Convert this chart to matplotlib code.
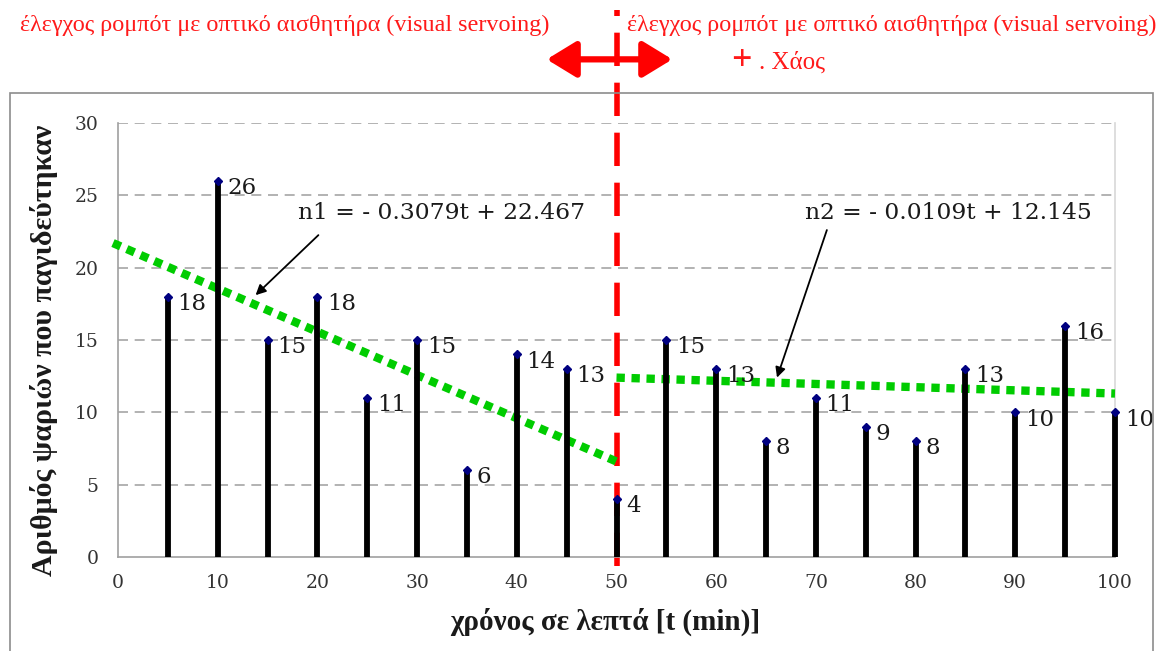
import matplotlib
matplotlib.use("Agg")
import matplotlib.pyplot as plt
from matplotlib.patches import Rectangle

#data
t_min = [5, 10, 15, 20, 25, 30, 35, 40, 45, 50, 55, 60, 65, 70, 75, 80, 85, 90, 95, 100]
n_fish = [18, 26, 15, 18, 11, 15, 6, 14, 13, 4, 15, 13, 8, 11, 9, 8, 13, 10, 16, 10]

#trend lines as drawn (end points)
trend1_t = [-0.5, 50]
trend1_n = [21.7, 6.6]
trend2_t = [50, 100]
trend2_n = [12.4, 11.3]

eq1 = "n1 = - 0.3079t + 22.467"
eq2 = "n2 = - 0.0109t + 12.145"

top_txt = "έλεγχος ρομπότ με οπτικό αισθητήρα (visual servoing)"
chaos_txt = ". Χάος"
xlab = "χρόνος σε λεπτά [t (min)]"
ylab = "Αριθμός ψαριών που παγιδεύτηκαν"

xticks = [0, 10, 20, 30, 40, 50, 60, 70, 80, 90, 100]
yticks = [0, 5, 10, 15, 20, 25, 30]

#_____________________________________________________________________________
def main():

    fig = plt.figure(figsize=(11.61, 6.51), dpi=100)
    fig.patch.set_facecolor("white")

    #chart area frame
    fig.patches.append(Rectangle((10/1161., -0.05), 1143/1161., 1.05 - 93/651.,
        transform=fig.transFigure, fill=False, edgecolor="#8c8c8c", lw=1.2))

    ax = fig.add_axes([118/1161., 1 - 557/651., 997/1161., 434/651.])
    ax.set_xlim(0, 100)
    ax.set_ylim(0, 30)

    for y in yticks[1:]:
        ax.axhline(y, color="#a6a6a6", lw=1.2, ls=(0, (6, 4)), zorder=1)

    for s in ["left", "bottom", "right"]:
        ax.spines[s].set_color("#a0a0a0")
        ax.spines[s].set_linewidth(1.2)
    ax.spines["right"].set_color("#d8d8d8")
    ax.spines["top"].set_visible(False)

    #trend lines
    ax.plot(trend1_t, trend1_n, color="#00cc00", lw=6, ls=(0, (1.0, 0.8)),
            solid_capstyle="butt", clip_on=False, zorder=3)
    ax.plot(trend2_t, trend2_n, color="#00cc00", lw=6, ls=(0, (1.0, 0.8)),
            solid_capstyle="butt", clip_on=False, zorder=3)

    #red separator
    ax.plot([50, 50], [-0.6, 37.8], color="red", lw=4, ls=(0, (6, 3)),
            clip_on=False, zorder=2)

    #stems
    ax.vlines(t_min, 0, n_fish, color="black", lw=4.2, zorder=4, clip_on=False)
    ax.plot(t_min, n_fish, "D", color="#000080", ms=4.5, zorder=5, clip_on=False)

    for t, n in zip(t_min, n_fish):
        ax.annotate(str(n), (t, n - 0.5), xytext=(7, 0), textcoords="offset points",
                    ha="left", va="center", fontsize=16.5, family="DejaVu Serif",
                    color="#1a1a1a", zorder=6, annotation_clip=False)

    #equations
    ax.text(32.5, 23.8, eq1, ha="center", va="center", fontsize=16.8,
            family="DejaVu Serif", color="#1a1a1a")
    ax.annotate("", xy=(13.8, 18.1), xytext=(20.1, 22.25),
                arrowprops=dict(arrowstyle="-|>", color="black", lw=1.3,
                                mutation_scale=15, shrinkA=0, shrinkB=0))
    ax.text(83.3, 23.8, eq2, ha="center", va="center", fontsize=16.8,
            family="DejaVu Serif", color="#1a1a1a")
    ax.annotate("", xy=(66.1, 12.4), xytext=(71.1, 22.6),
                arrowprops=dict(arrowstyle="-|>", color="black", lw=1.3,
                                mutation_scale=15, shrinkA=0, shrinkB=0))

    #top labels
    ax.annotate("", xy=(43.0, 34.4), xytext=(55.6, 34.4), annotation_clip=False,
                arrowprops=dict(arrowstyle="<|-|>,head_length=0.9,head_width=0.55",
                                color="red", lw=4.5, mutation_scale=20,
                                shrinkA=0, shrinkB=0))
    fig.text(20/1161., 1 - 25/651., top_txt, ha="left", va="center", fontsize=17.4,
             family="Liberation Serif", color="#ff1a1a")
    fig.text(1156/1161., 1 - 25/651., top_txt, ha="right", va="center", fontsize=17.4,
             family="Liberation Serif", color="#ff1a1a")
    fig.text(731/1161., 1 - 61/651., "+", ha="left", va="center", fontsize=26,
             family="Liberation Serif", color="#ff1a1a", weight="bold")
    fig.text(759/1161., 1 - 62/651., chaos_txt, ha="left", va="center", fontsize=18,
             family="Liberation Serif", color="#ff1a1a")

    #axes
    ax.set_xticks(xticks)
    ax.set_yticks(yticks)
    ax.tick_params(length=0, labelsize=13.5, labelcolor="#333333")
    for lab in ax.get_xticklabels() + ax.get_yticklabels():
        lab.set_family("DejaVu Serif")
    ax.tick_params(axis="y", pad=14)
    ax.tick_params(axis="x", pad=12)

    ax.set_xlabel(xlab, fontsize=21, family="Liberation Serif", weight="bold",
                  color="#1a1a1a")
    ax.set_ylabel(ylab, fontsize=21.5, family="Liberation Serif", weight="bold",
                  color="#1a1a1a")
    ax.xaxis.set_label_coords(0.489, -0.117)
    ax.yaxis.set_label_coords(-0.060, 0.477)

    fig.savefig("out.png", dpi=100)
    plt.close()

#_____________________________________________________________________________
if __name__ == "__main__":

    main()
